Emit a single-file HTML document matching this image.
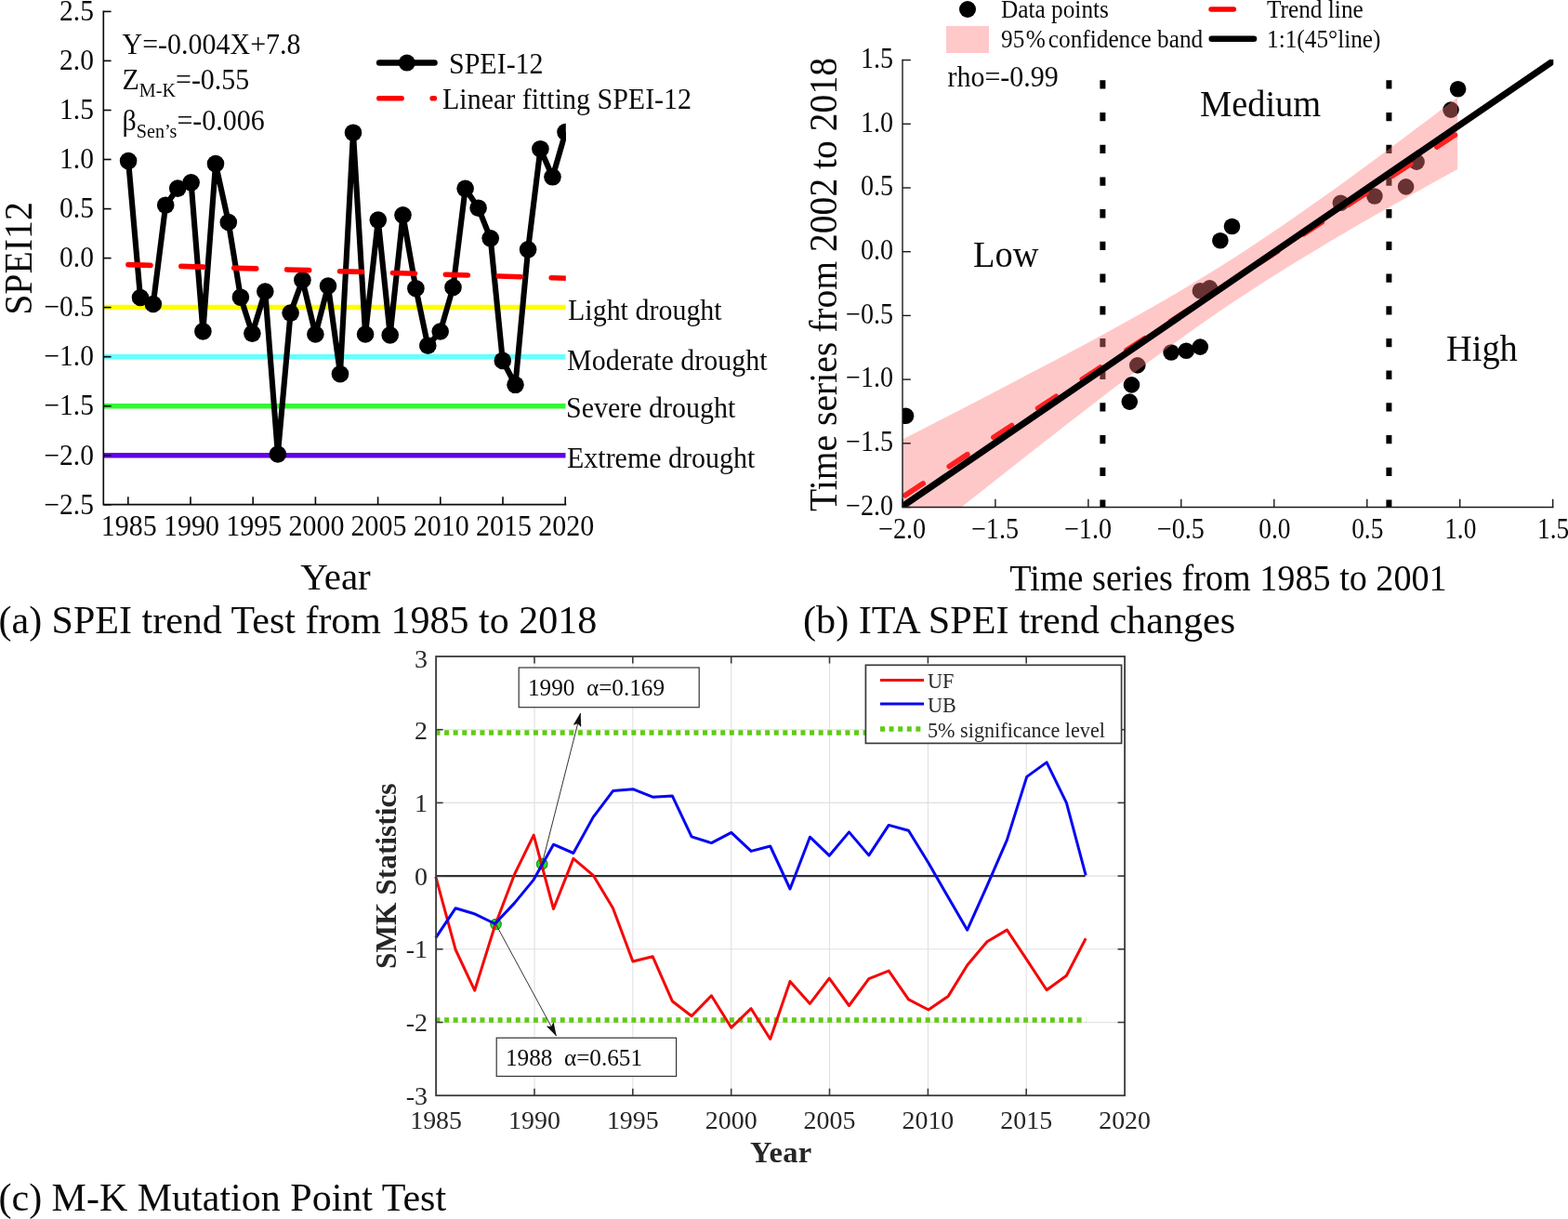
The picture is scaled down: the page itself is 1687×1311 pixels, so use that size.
<!DOCTYPE html>
<html lang="en"><head><meta charset="utf-8"><title>SPEI trend analysis</title>
<style>html,body{margin:0;padding:0;background:#fff;}body{width:1687px;height:1311px;overflow:hidden;}svg{display:block;}text{font-family:"Liberation Serif", "Times New Roman", serif;}</style>
</head><body>
<svg width="1687" height="1311" viewBox="0 0 1687 1311" fill="#0a0a0a">
<rect width="1687" height="1311" fill="#fff"/>
<g id="chart-a">
<line x1="111.3" x2="608.5" y1="330.6" y2="330.6" stroke="#ffff00" stroke-width="5.5"/>
<line x1="111.3" x2="608.5" y1="383.7" y2="383.7" stroke="#66ffff" stroke-width="5.5"/>
<line x1="111.3" x2="608.5" y1="436.7" y2="436.7" stroke="#33f633" stroke-width="5.5"/>
<line x1="111.3" x2="608.5" y1="489.8" y2="489.8" stroke="#6400e6" stroke-width="5.5"/>
<clipPath id="clipA"><rect x="100" y="0" width="508.8" height="560"/></clipPath>
<g clip-path="url(#clipA)">
<polyline fill="none" stroke="#000" stroke-width="6.1" stroke-linejoin="round" points="138.1,173.1 151,320 164.8,327 178.2,220.7 191.2,202.6 205.6,196.3 218.4,356.4 232,176.1 245.8,239 258.9,319.7 271.4,358.6 285.3,313.5 298.9,488.5 312.6,336.6 325.4,301.2 339.4,359.5 353,307.5 366,402.2 380,142.7 393.1,359.5 406.8,236.6 419.7,360.4 433.5,231.3 447.4,310.2 460.3,371.7 473.7,356.5 487.5,309 500.6,202.8 514.6,223.7 527.7,256.3 540.8,387.9 554.5,413.8 568.1,268.3 581.4,160.2 594.5,190.3 608.5,142.1"/>
<circle cx="138.1" cy="173.1" r="9.3" fill="#000"/>
<circle cx="151" cy="320" r="9.3" fill="#000"/>
<circle cx="164.8" cy="327" r="9.3" fill="#000"/>
<circle cx="178.2" cy="220.7" r="9.3" fill="#000"/>
<circle cx="191.2" cy="202.6" r="9.3" fill="#000"/>
<circle cx="205.6" cy="196.3" r="9.3" fill="#000"/>
<circle cx="218.4" cy="356.4" r="9.3" fill="#000"/>
<circle cx="232" cy="176.1" r="9.3" fill="#000"/>
<circle cx="245.8" cy="239" r="9.3" fill="#000"/>
<circle cx="258.9" cy="319.7" r="9.3" fill="#000"/>
<circle cx="271.4" cy="358.6" r="9.3" fill="#000"/>
<circle cx="285.3" cy="313.5" r="9.3" fill="#000"/>
<circle cx="298.9" cy="488.5" r="9.3" fill="#000"/>
<circle cx="312.6" cy="336.6" r="9.3" fill="#000"/>
<circle cx="325.4" cy="301.2" r="9.3" fill="#000"/>
<circle cx="339.4" cy="359.5" r="9.3" fill="#000"/>
<circle cx="353" cy="307.5" r="9.3" fill="#000"/>
<circle cx="366" cy="402.2" r="9.3" fill="#000"/>
<circle cx="380" cy="142.7" r="9.3" fill="#000"/>
<circle cx="393.1" cy="359.5" r="9.3" fill="#000"/>
<circle cx="406.8" cy="236.6" r="9.3" fill="#000"/>
<circle cx="419.7" cy="360.4" r="9.3" fill="#000"/>
<circle cx="433.5" cy="231.3" r="9.3" fill="#000"/>
<circle cx="447.4" cy="310.2" r="9.3" fill="#000"/>
<circle cx="460.3" cy="371.7" r="9.3" fill="#000"/>
<circle cx="473.7" cy="356.5" r="9.3" fill="#000"/>
<circle cx="487.5" cy="309" r="9.3" fill="#000"/>
<circle cx="500.6" cy="202.8" r="9.3" fill="#000"/>
<circle cx="514.6" cy="223.7" r="9.3" fill="#000"/>
<circle cx="527.7" cy="256.3" r="9.3" fill="#000"/>
<circle cx="540.8" cy="387.9" r="9.3" fill="#000"/>
<circle cx="554.5" cy="413.8" r="9.3" fill="#000"/>
<circle cx="568.1" cy="268.3" r="9.3" fill="#000"/>
<circle cx="581.4" cy="160.2" r="9.3" fill="#000"/>
<circle cx="594.5" cy="190.3" r="9.3" fill="#000"/>
<circle cx="608.5" cy="142.1" r="9.3" fill="#000"/>
<line x1="138" y1="284.7" x2="630" y2="299.9" stroke="#ff0000" stroke-width="5.7" stroke-dasharray="23.9 33.03" stroke-linecap="round"/>
</g>
<path d="M111.3 11.399999999999999V542.6H609.3" fill="none" stroke="#0c0c0c" stroke-width="1.65"/>
<line x1="111.3" x2="119.6" y1="12.4" y2="12.4" stroke="#0c0c0c" stroke-width="1.65"/>
<text transform="translate(101,22.1) scale(0.937,1)" font-size="31.5" text-anchor="end">2.5</text>
<line x1="111.3" x2="119.6" y1="65.4" y2="65.4" stroke="#0c0c0c" stroke-width="1.65"/>
<text transform="translate(101,75.1) scale(0.937,1)" font-size="31.5" text-anchor="end">2.0</text>
<line x1="111.3" x2="119.6" y1="118.5" y2="118.5" stroke="#0c0c0c" stroke-width="1.65"/>
<text transform="translate(101,128.2) scale(0.937,1)" font-size="31.5" text-anchor="end">1.5</text>
<line x1="111.3" x2="119.6" y1="171.5" y2="171.5" stroke="#0c0c0c" stroke-width="1.65"/>
<text transform="translate(101,181.2) scale(0.937,1)" font-size="31.5" text-anchor="end">1.0</text>
<line x1="111.3" x2="119.6" y1="224.6" y2="224.6" stroke="#0c0c0c" stroke-width="1.65"/>
<text transform="translate(101,234.3) scale(0.937,1)" font-size="31.5" text-anchor="end">0.5</text>
<line x1="111.3" x2="119.6" y1="277.6" y2="277.6" stroke="#0c0c0c" stroke-width="1.65"/>
<text transform="translate(101,287.3) scale(0.937,1)" font-size="31.5" text-anchor="end">0.0</text>
<line x1="111.3" x2="119.6" y1="330.6" y2="330.6" stroke="#0c0c0c" stroke-width="1.65"/>
<text transform="translate(101,340.3) scale(0.937,1)" font-size="31.5" text-anchor="end">−0.5</text>
<line x1="111.3" x2="119.6" y1="383.7" y2="383.7" stroke="#0c0c0c" stroke-width="1.65"/>
<text transform="translate(101,393.4) scale(0.937,1)" font-size="31.5" text-anchor="end">−1.0</text>
<line x1="111.3" x2="119.6" y1="436.7" y2="436.7" stroke="#0c0c0c" stroke-width="1.65"/>
<text transform="translate(101,446.4) scale(0.937,1)" font-size="31.5" text-anchor="end">−1.5</text>
<line x1="111.3" x2="119.6" y1="489.8" y2="489.8" stroke="#0c0c0c" stroke-width="1.65"/>
<text transform="translate(101,499.5) scale(0.937,1)" font-size="31.5" text-anchor="end">−2.0</text>
<line x1="111.3" x2="119.6" y1="542.8" y2="542.8" stroke="#0c0c0c" stroke-width="1.65"/>
<text transform="translate(101,552.5) scale(0.937,1)" font-size="31.5" text-anchor="end">−2.5</text>
<line x1="137.8" x2="137.8" y1="542.6" y2="534.3000000000001" stroke="#0c0c0c" stroke-width="1.65"/>
<text transform="translate(138.8,576) scale(0.937,1)" font-size="32" text-anchor="middle">1985</text>
<line x1="205.0" x2="205.0" y1="542.6" y2="534.3000000000001" stroke="#0c0c0c" stroke-width="1.65"/>
<text transform="translate(206.0,576) scale(0.937,1)" font-size="32" text-anchor="middle">1990</text>
<line x1="272.2" x2="272.2" y1="542.6" y2="534.3000000000001" stroke="#0c0c0c" stroke-width="1.65"/>
<text transform="translate(273.2,576) scale(0.937,1)" font-size="32" text-anchor="middle">1995</text>
<line x1="339.4" x2="339.4" y1="542.6" y2="534.3000000000001" stroke="#0c0c0c" stroke-width="1.65"/>
<text transform="translate(340.4,576) scale(0.937,1)" font-size="32" text-anchor="middle">2000</text>
<line x1="406.6" x2="406.6" y1="542.6" y2="534.3000000000001" stroke="#0c0c0c" stroke-width="1.65"/>
<text transform="translate(407.6,576) scale(0.937,1)" font-size="32" text-anchor="middle">2005</text>
<line x1="473.8" x2="473.8" y1="542.6" y2="534.3000000000001" stroke="#0c0c0c" stroke-width="1.65"/>
<text transform="translate(474.8,576) scale(0.937,1)" font-size="32" text-anchor="middle">2010</text>
<line x1="541.0" x2="541.0" y1="542.6" y2="534.3000000000001" stroke="#0c0c0c" stroke-width="1.65"/>
<text transform="translate(542.0,576) scale(0.937,1)" font-size="32" text-anchor="middle">2015</text>
<line x1="608.2" x2="608.2" y1="542.6" y2="534.3000000000001" stroke="#0c0c0c" stroke-width="1.65"/>
<text transform="translate(609.2,576) scale(0.937,1)" font-size="32" text-anchor="middle">2020</text>
<text transform="translate(361,633.8)" font-size="41" text-anchor="middle">Year</text>
<text transform="translate(34.3,278) rotate(-90) scale(0.937,1)" font-size="42.5" text-anchor="middle">SPEI12</text>
<text transform="translate(131.5,58.3) scale(0.937,1)" font-size="32">Y=-0.004X+7.8</text>
<text transform="translate(131.5,96) scale(0.937,1)" font-size="32">Z<tspan font-size="21.5" dy="8">M-K</tspan><tspan dy="-8">=-0.55</tspan></text>
<text transform="translate(131.5,140) scale(0.937,1)" font-size="32">β<tspan font-size="21.5" dy="8">Sen’s</tspan><tspan dy="-8">=-0.006</tspan></text>
<line x1="408.2" x2="467.5" y1="67.6" y2="67.6" stroke="#000" stroke-width="6.5" stroke-linecap="round"/><circle cx="437.8" cy="67.6" r="9" fill="#000"/>
<text transform="translate(483,79) scale(0.937,1)" font-size="32">SPEI-12</text>
<line x1="407.8" x2="432.1" y1="105.8" y2="105.8" stroke="#ff0000" stroke-width="5.6" stroke-linecap="round"/><line x1="465.2" x2="467.4" y1="105.8" y2="105.8" stroke="#ff0000" stroke-width="5.6" stroke-linecap="round"/>
<text transform="translate(476,117) scale(0.937,1)" font-size="32">Linear fitting SPEI-12</text>
<text transform="translate(611,343.8) scale(0.937,1)" font-size="32">Light drought</text>
<text transform="translate(610,397.8) scale(0.937,1)" font-size="32">Moderate drought</text>
<text transform="translate(609,448.8) scale(0.937,1)" font-size="32">Severe drought</text>
<text transform="translate(610,502.8) scale(0.937,1)" font-size="32">Extreme drought</text>
</g>
<text transform="translate(-1.5,681)" font-size="42">(a) SPEI trend Test from 1985 to 2018</text>
<g id="chart-b">
<clipPath id="clipB"><rect x="971.0" y="64.0" width="700.3" height="481.5"/></clipPath>
<g clip-path="url(#clipB)">
<line x1="1186.4" x2="1186.4" y1="86.3" y2="545.5" stroke="#000" stroke-width="6" stroke-dasharray="9.3 25.4"/>
<line x1="1494.4" x2="1494.4" y1="86.3" y2="545.5" stroke="#000" stroke-width="6" stroke-dasharray="9.3 25.4"/>
<circle cx="974.5" cy="447.3" r="8.8" fill="#000"/>
<circle cx="1215.3" cy="432.1" r="8.8" fill="#000"/>
<circle cx="1217.5" cy="413.9" r="8.8" fill="#000"/>
<circle cx="1223.8" cy="392.9" r="8.8" fill="#000"/>
<circle cx="1260.1" cy="379" r="8.8" fill="#000"/>
<circle cx="1276.3" cy="377.2" r="8.8" fill="#000"/>
<circle cx="1291.3" cy="373.1" r="8.8" fill="#000"/>
<circle cx="1291.4" cy="312.8" r="8.8" fill="#000"/>
<circle cx="1301.4" cy="309.9" r="8.8" fill="#000"/>
<circle cx="1312.9" cy="258.8" r="8.8" fill="#000"/>
<circle cx="1325.5" cy="243.5" r="8.8" fill="#000"/>
<circle cx="1442.4" cy="218.2" r="8.8" fill="#000"/>
<circle cx="1478.9" cy="211" r="8.8" fill="#000"/>
<circle cx="1512.6" cy="200.9" r="8.8" fill="#000"/>
<circle cx="1524.1" cy="174.1" r="8.8" fill="#000"/>
<circle cx="1561" cy="118.1" r="8.8" fill="#000"/>
<circle cx="1568.6" cy="95.7" r="8.8" fill="#000"/>
<polygon fill="#ff7a7a" fill-opacity="0.41" points="971.0,472.5 985.9,464.9 1000.9,457.3 1015.8,449.6 1030.7,441.9 1045.6,434.2 1060.6,426.5 1075.5,418.7 1090.4,410.9 1105.3,403.1 1120.3,395.3 1135.2,387.4 1150.1,379.4 1165.1,371.4 1180.0,363.4 1194.9,355.2 1209.8,347.0 1224.8,338.7 1239.7,330.3 1254.6,321.7 1269.6,313.0 1284.5,304.1 1299.4,295.0 1314.3,285.7 1329.3,276.2 1344.2,266.5 1359.1,256.6 1374.0,246.5 1389.0,236.2 1403.9,225.8 1418.8,215.3 1433.8,204.7 1448.7,193.9 1463.6,183.0 1478.5,172.0 1493.5,161.0 1508.4,149.8 1523.3,138.6 1538.2,127.4 1553.2,116.1 1568.1,104.7 1568.1,182.1 1553.2,190.3 1538.2,198.5 1523.3,206.8 1508.4,215.2 1493.5,223.6 1478.5,232.1 1463.6,240.6 1448.7,249.3 1433.8,258.0 1418.8,266.9 1403.9,275.9 1389.0,285.1 1374.0,294.4 1359.1,303.8 1344.2,313.5 1329.3,323.3 1314.3,333.3 1299.4,343.6 1284.5,354.0 1269.6,364.7 1254.6,375.5 1239.7,386.5 1224.8,397.6 1209.8,408.8 1194.9,420.1 1180.0,431.5 1165.1,443.0 1150.1,454.6 1135.2,466.2 1120.3,477.8 1105.3,489.5 1090.4,501.2 1075.5,513.0 1060.6,524.8 1045.6,536.6 1030.7,548.4 1015.8,560.3 1000.9,572.2 985.9,584.0 971.0,595.9"/>
<line x1="973.6" y1="532.8" x2="1569.3" y2="142.6" stroke="#ff2020" stroke-width="5.7" stroke-dasharray="23.4 33.6" stroke-linecap="round"/>
<line x1="964" y1="549.3" x2="1678.3" y2="60.7" stroke="#000" stroke-width="7.1"/>
</g>
<path d="M971.0 63.8V545.5H1671.5" fill="none" stroke="#1a1a1a" stroke-width="1.4"/>
<line x1="971.0" x2="979.8" y1="64.6" y2="64.6" stroke="#1a1a1a" stroke-width="1.4"/>
<text transform="translate(961,72.8) scale(0.892,1)" font-size="31.5" text-anchor="end">1.5</text>
<line x1="971.0" x2="971.0" y1="545.5" y2="536.7" stroke="#1a1a1a" stroke-width="1.4"/>
<text transform="translate(970.6,579) scale(0.9,1)" font-size="31.3" text-anchor="middle">−2.0</text>
<line x1="971.0" x2="979.8" y1="133.3" y2="133.3" stroke="#1a1a1a" stroke-width="1.4"/>
<text transform="translate(961,141.5) scale(0.892,1)" font-size="31.5" text-anchor="end">1.0</text>
<line x1="1070.9" x2="1070.9" y1="545.5" y2="536.7" stroke="#1a1a1a" stroke-width="1.4"/>
<text transform="translate(1070.5,579) scale(0.9,1)" font-size="31.3" text-anchor="middle">−1.5</text>
<line x1="971.0" x2="979.8" y1="202.0" y2="202.0" stroke="#1a1a1a" stroke-width="1.4"/>
<text transform="translate(961,210.2) scale(0.892,1)" font-size="31.5" text-anchor="end">0.5</text>
<line x1="1170.9" x2="1170.9" y1="545.5" y2="536.7" stroke="#1a1a1a" stroke-width="1.4"/>
<text transform="translate(1170.5,579) scale(0.9,1)" font-size="31.3" text-anchor="middle">−1.0</text>
<line x1="971.0" x2="979.8" y1="270.7" y2="270.7" stroke="#1a1a1a" stroke-width="1.4"/>
<text transform="translate(961,278.9) scale(0.892,1)" font-size="31.5" text-anchor="end">0.0</text>
<line x1="1270.8" x2="1270.8" y1="545.5" y2="536.7" stroke="#1a1a1a" stroke-width="1.4"/>
<text transform="translate(1270.4,579) scale(0.9,1)" font-size="31.3" text-anchor="middle">−0.5</text>
<line x1="971.0" x2="979.8" y1="339.4" y2="339.4" stroke="#1a1a1a" stroke-width="1.4"/>
<text transform="translate(961,347.6) scale(0.892,1)" font-size="31.5" text-anchor="end">−0.5</text>
<line x1="1370.8" x2="1370.8" y1="545.5" y2="536.7" stroke="#1a1a1a" stroke-width="1.4"/>
<text transform="translate(1371.4,579) scale(0.875,1)" font-size="31.3" text-anchor="middle">0.0</text>
<line x1="971.0" x2="979.8" y1="408.1" y2="408.1" stroke="#1a1a1a" stroke-width="1.4"/>
<text transform="translate(961,416.3) scale(0.892,1)" font-size="31.5" text-anchor="end">−1.0</text>
<line x1="1470.8" x2="1470.8" y1="545.5" y2="536.7" stroke="#1a1a1a" stroke-width="1.4"/>
<text transform="translate(1471.3,579) scale(0.875,1)" font-size="31.3" text-anchor="middle">0.5</text>
<line x1="971.0" x2="979.8" y1="476.8" y2="476.8" stroke="#1a1a1a" stroke-width="1.4"/>
<text transform="translate(961,485.0) scale(0.892,1)" font-size="31.5" text-anchor="end">−1.5</text>
<line x1="1570.7" x2="1570.7" y1="545.5" y2="536.7" stroke="#1a1a1a" stroke-width="1.4"/>
<text transform="translate(1571.3,579) scale(0.875,1)" font-size="31.3" text-anchor="middle">1.0</text>
<line x1="971.0" x2="979.8" y1="545.5" y2="545.5" stroke="#1a1a1a" stroke-width="1.4"/>
<text transform="translate(961,553.7) scale(0.892,1)" font-size="31.5" text-anchor="end">−2.0</text>
<line x1="1670.7" x2="1670.7" y1="545.5" y2="536.7" stroke="#1a1a1a" stroke-width="1.4"/>
<text transform="translate(1671.2,579) scale(0.875,1)" font-size="31.3" text-anchor="middle">1.5</text>
<text transform="translate(1321.5,634.7) scale(0.931,1)" font-size="41" text-anchor="middle">Time series from 1985 to 2001</text>
<text transform="translate(900.4,306) rotate(-90) scale(0.921,1)" font-size="43" text-anchor="middle">Time series from 2002 to 2018</text>
<circle cx="1041" cy="10" r="9" fill="#000"/>
<text transform="translate(1077,18.7) scale(0.937,1)" font-size="27">Data points</text>
<rect x="1018" y="28" width="46" height="29" fill="#ffc9c9"/>
<text transform="translate(1077,50.5) scale(0.937,1)" font-size="27">95<tspan dx="1.5">%</tspan><tspan dx="3.2">confidence band</tspan></text>
<line x1="1303" x2="1327.4" y1="10" y2="10" stroke="#ff0000" stroke-width="5.4" stroke-linecap="round"/>
<text transform="translate(1363,18.7) scale(0.937,1)" font-size="27">Trend line</text>
<line x1="1303.8" x2="1349" y1="41.8" y2="41.8" stroke="#000" stroke-width="6.6" stroke-linecap="round"/>
<text transform="translate(1363,50.5) scale(0.937,1)" font-size="27">1:1(45°line)</text>
<text transform="translate(1019.5,92.6) scale(0.937,1)" font-size="32">rho=-0.99</text>
<text transform="translate(1047,287) scale(0.937,1)" font-size="41">Low</text>
<text transform="translate(1291,125) scale(0.937,1)" font-size="41">Medium</text>
<text transform="translate(1556,388) scale(0.937,1)" font-size="41">High</text>
</g>
<text transform="translate(864,680.6)" font-size="42.2">(b) ITA SPEI trend changes</text>
<g id="chart-c">
<line x1="575.0" x2="575.0" y1="706.0" y2="1178.2" stroke="#e0e0e0" stroke-width="1.1"/>
<line x1="680.8" x2="680.8" y1="706.0" y2="1178.2" stroke="#e0e0e0" stroke-width="1.1"/>
<line x1="786.7" x2="786.7" y1="706.0" y2="1178.2" stroke="#e0e0e0" stroke-width="1.1"/>
<line x1="892.5" x2="892.5" y1="706.0" y2="1178.2" stroke="#e0e0e0" stroke-width="1.1"/>
<line x1="998.4" x2="998.4" y1="706.0" y2="1178.2" stroke="#e0e0e0" stroke-width="1.1"/>
<line x1="1104.2" x2="1104.2" y1="706.0" y2="1178.2" stroke="#e0e0e0" stroke-width="1.1"/>
<line x1="469.1" x2="1210.1" y1="784.7" y2="784.7" stroke="#e0e0e0" stroke-width="1.1"/>
<line x1="469.1" x2="1210.1" y1="863.4" y2="863.4" stroke="#e0e0e0" stroke-width="1.1"/>
<line x1="469.1" x2="1210.1" y1="942.1" y2="942.1" stroke="#e0e0e0" stroke-width="1.1"/>
<line x1="469.1" x2="1210.1" y1="1020.8" y2="1020.8" stroke="#e0e0e0" stroke-width="1.1"/>
<line x1="469.1" x2="1210.1" y1="1099.5" y2="1099.5" stroke="#e0e0e0" stroke-width="1.1"/>
<line x1="469.1" x2="1167.7" y1="942.1" y2="942.1" stroke="#333" stroke-width="2.3"/>
<line x1="468.5" x2="1168.4" y1="788.0" y2="788.0" stroke="#5fcc14" stroke-width="5.5" stroke-dasharray="5 4.585"/>
<line x1="468.5" x2="1168.4" y1="1097.0" y2="1097.0" stroke="#5fcc14" stroke-width="5.5" stroke-dasharray="5 4.585"/>
<circle cx="583.2" cy="929.2" r="5.8" fill="#22dd22" stroke="#1f8a1f" stroke-width="1.1"/>
<circle cx="533.5" cy="994" r="5.8" fill="#22dd22" stroke="#1f8a1f" stroke-width="1.1"/>
<polyline fill="none" stroke="#f40808" stroke-width="3" stroke-linejoin="round" points="468.8,942.9 490.2,1021.5 510.7,1065.2 532.6,995.3 553.4,940.7 574.2,898.1 595.5,977.5 616.9,923.4 638.2,941.3 659.5,976.7 680.9,1034 702.2,1028.7 723.3,1076.7 744.1,1092.7 765.4,1070.8 786.8,1105.2 808.1,1084.7 828.7,1117.5 850,1055.4 871.4,1079.4 892.2,1052.2 913.5,1081.5 934.8,1052.7 956.2,1044.1 977.5,1074.8 998.9,1086 1020.2,1071.4 1040.7,1038 1062,1012.7 1083.4,1000.1 1104.7,1032.1 1126.1,1064.7 1147.4,1049.2 1168.2,1009.2"/>
<polyline fill="none" stroke="#0606f2" stroke-width="3" stroke-linejoin="round" points="468.8,1008.7 490.2,976.7 510.7,982.9 532.6,993.5 553.4,971.4 574.2,946.1 595.5,908.2 616.9,917.5 638.2,878.9 659.5,850.6 680.9,848.7 702.2,857.2 723.3,855.9 744.1,899.9 765.4,906.6 786.8,895.4 808.1,915.4 828.7,910 850,956 871.4,900.2 892.2,920.2 913.5,894.9 934.8,919.9 956.2,887.4 977.5,893.3 998.9,928 1020.2,965 1040.7,1000.2 1062,952.7 1083.4,903.4 1104.7,835.4 1126.1,819.9 1147.4,863.4 1168.2,941.3"/>
<rect x="469.1" y="706.0" width="741.0" height="472.2" fill="none" stroke="#3a3a3a" stroke-width="1.8"/>
<line x1="575.0" x2="575.0" y1="706.0" y2="713.5" stroke="#3a3a3a" stroke-width="1.6"/>
<line x1="575.0" x2="575.0" y1="1178.2" y2="1170.7" stroke="#3a3a3a" stroke-width="1.6"/>
<line x1="680.8" x2="680.8" y1="706.0" y2="713.5" stroke="#3a3a3a" stroke-width="1.6"/>
<line x1="680.8" x2="680.8" y1="1178.2" y2="1170.7" stroke="#3a3a3a" stroke-width="1.6"/>
<line x1="786.7" x2="786.7" y1="706.0" y2="713.5" stroke="#3a3a3a" stroke-width="1.6"/>
<line x1="786.7" x2="786.7" y1="1178.2" y2="1170.7" stroke="#3a3a3a" stroke-width="1.6"/>
<line x1="892.5" x2="892.5" y1="706.0" y2="713.5" stroke="#3a3a3a" stroke-width="1.6"/>
<line x1="892.5" x2="892.5" y1="1178.2" y2="1170.7" stroke="#3a3a3a" stroke-width="1.6"/>
<line x1="998.4" x2="998.4" y1="706.0" y2="713.5" stroke="#3a3a3a" stroke-width="1.6"/>
<line x1="998.4" x2="998.4" y1="1178.2" y2="1170.7" stroke="#3a3a3a" stroke-width="1.6"/>
<line x1="1104.2" x2="1104.2" y1="706.0" y2="713.5" stroke="#3a3a3a" stroke-width="1.6"/>
<line x1="1104.2" x2="1104.2" y1="1178.2" y2="1170.7" stroke="#3a3a3a" stroke-width="1.6"/>
<line x1="1210.1" x2="1202.6" y1="784.7" y2="784.7" stroke="#3a3a3a" stroke-width="1.6"/>
<line x1="469.1" x2="476.6" y1="784.7" y2="784.7" stroke="#3a3a3a" stroke-width="1.6"/>
<line x1="1210.1" x2="1202.6" y1="863.4" y2="863.4" stroke="#3a3a3a" stroke-width="1.6"/>
<line x1="469.1" x2="476.6" y1="863.4" y2="863.4" stroke="#3a3a3a" stroke-width="1.6"/>
<line x1="1210.1" x2="1202.6" y1="942.1" y2="942.1" stroke="#3a3a3a" stroke-width="1.6"/>
<line x1="469.1" x2="476.6" y1="942.1" y2="942.1" stroke="#3a3a3a" stroke-width="1.6"/>
<line x1="1210.1" x2="1202.6" y1="1020.8" y2="1020.8" stroke="#3a3a3a" stroke-width="1.6"/>
<line x1="469.1" x2="476.6" y1="1020.8" y2="1020.8" stroke="#3a3a3a" stroke-width="1.6"/>
<line x1="1210.1" x2="1202.6" y1="1099.5" y2="1099.5" stroke="#3a3a3a" stroke-width="1.6"/>
<line x1="469.1" x2="476.6" y1="1099.5" y2="1099.5" stroke="#3a3a3a" stroke-width="1.6"/>
<text transform="translate(469.1,1213.6)" font-size="27.9" text-anchor="middle" fill="#262626">1985</text>
<text transform="translate(575.0,1213.6)" font-size="27.9" text-anchor="middle" fill="#262626">1990</text>
<text transform="translate(680.8,1213.6)" font-size="27.9" text-anchor="middle" fill="#262626">1995</text>
<text transform="translate(786.7,1213.6)" font-size="27.9" text-anchor="middle" fill="#262626">2000</text>
<text transform="translate(892.5,1213.6)" font-size="27.9" text-anchor="middle" fill="#262626">2005</text>
<text transform="translate(998.4,1213.6)" font-size="27.9" text-anchor="middle" fill="#262626">2010</text>
<text transform="translate(1104.2,1213.6)" font-size="27.9" text-anchor="middle" fill="#262626">2015</text>
<text transform="translate(1210.1,1213.6)" font-size="27.9" text-anchor="middle" fill="#262626">2020</text>
<text transform="translate(460,717.7)" font-size="28" text-anchor="end" fill="#262626">3</text>
<text transform="translate(460,795.3)" font-size="28" text-anchor="end" fill="#262626">2</text>
<text transform="translate(460,873.3)" font-size="28" text-anchor="end" fill="#262626">1</text>
<text transform="translate(460,951.5)" font-size="28" text-anchor="end" fill="#262626">0</text>
<text transform="translate(460,1030.2)" font-size="28" text-anchor="end" fill="#262626">-1</text>
<text transform="translate(460,1108.9)" font-size="28" text-anchor="end" fill="#262626">-2</text>
<text transform="translate(460,1187.6)" font-size="28" text-anchor="end" fill="#262626">-3</text>
<text transform="translate(840.4,1250)" font-size="32.5" text-anchor="middle" font-weight="bold" fill="#262626" letter-spacing="0.4">Year</text>
<text transform="translate(425.8,942.2) rotate(-90) scale(0.965,1)" font-size="32.5" text-anchor="middle" font-weight="bold" fill="#262626">SMK Statistics</text>
<rect x="558.2" y="718" width="194" height="42.7" fill="#fff" stroke="#333" stroke-width="1.2"/>
<text transform="translate(568,747.5)" font-size="25.2">1990  α=0.169</text>
<rect x="534.2" y="1116.2" width="193.4" height="41.3" fill="#fff" stroke="#333" stroke-width="1.2"/>
<text transform="translate(544,1145.5)" font-size="25.2">1988  α=0.651</text>
<defs><marker id="arr" viewBox="0 0 15 9" refX="14.5" refY="4.5" markerWidth="15" markerHeight="9" markerUnits="userSpaceOnUse" orient="auto"><path d="M0 0L15 4.5L0 9L3 4.5Z" fill="#111"/></marker></defs>
<line x1="583.2" y1="929" x2="624.5" y2="767" stroke="#333" stroke-width="1" marker-end="url(#arr)"/>
<line x1="533.5" y1="994" x2="598.5" y2="1114" stroke="#333" stroke-width="1" marker-end="url(#arr)"/>
<rect x="931.4" y="715.3" width="275.2" height="84.1" fill="#fff" stroke="#3a3a3a" stroke-width="1.7"/>
<line x1="947" x2="994" y1="731.5" y2="731.5" stroke="#f40808" stroke-width="3"/>
<line x1="947" x2="994" y1="757" y2="757" stroke="#0606f2" stroke-width="3"/>
<line x1="947" x2="994" y1="784" y2="784" stroke="#5fcc14" stroke-width="5.5" stroke-dasharray="5 4.585"/>
<text transform="translate(998,739.6)" font-size="22.2" fill="#262626">UF</text>
<text transform="translate(998,765.6)" font-size="22.2" fill="#262626">UB</text>
<text transform="translate(998,792.6)" font-size="22.2" fill="#262626">5% significance level</text>
</g>
<text transform="translate(-1.5,1302)" font-size="42">(c) M-K Mutation Point Test</text>
</svg>
</body></html>
